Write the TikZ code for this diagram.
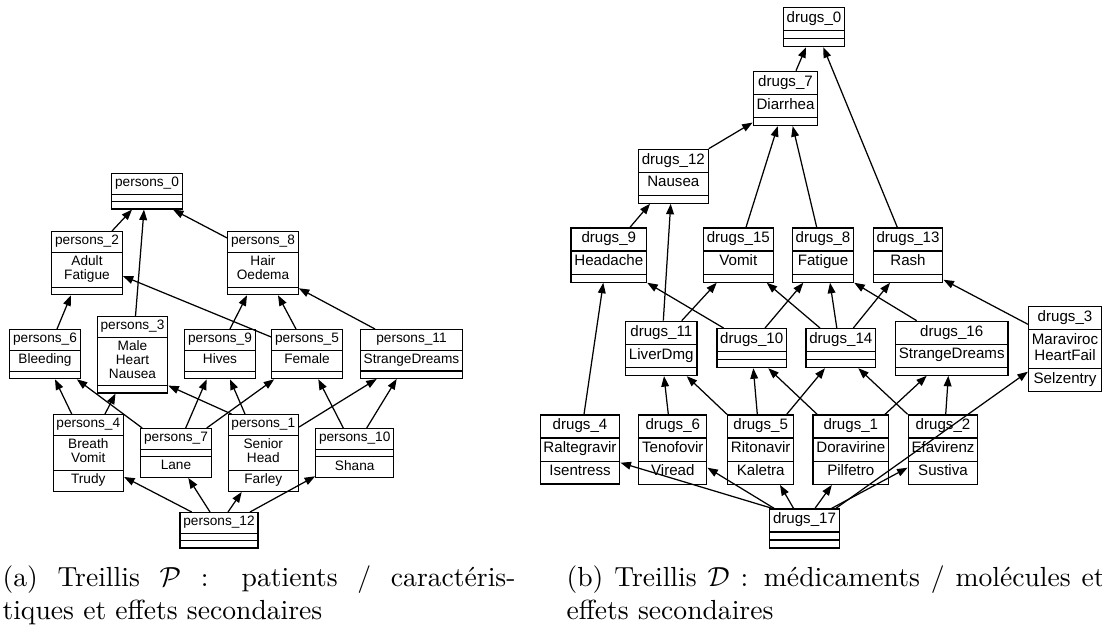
\documentclass[tikz,border=0pt]{standalone}
\usepackage{fontspec}
\usepackage{amsmath}
\usepackage{amssymb}
\usetikzlibrary{shapes.multipart,arrows.meta,calc}
\newfontfamily\latfont{Liberation Sans}
\newcommand\pfont{\latfont\fontsize{4.94}{4.94}\selectfont}
\newcommand\dfont{\latfont\fontsize{5.47}{5.47}\selectfont}
\newcommand\cpart[1]{\begin{tabular}{@{}c@{}}#1\end{tabular}}
\newcommand\nopart{\hbox to 0.1pt{\vrule height 0.1pt depth 0pt width 0pt\hss}}
\tikzset{
  concept/.style={rectangle split, rectangle split parts=3, draw, line width=0.45pt,
    inner xsep=1.2pt, inner ysep=1.05pt, anchor=north, font=\pfont},
  dconcept/.style={concept, inner ysep=1.16pt, font=\dfont},
  arr/.style={-{Triangle[length=3.8pt,width=2.8pt]}, line width=0.45pt},
  caption/.style={anchor=north west, inner sep=0pt, align=justify, font=\fontsize{10}{12}\selectfont}
}
\begin{document}
\begin{tikzpicture}[x=0.362pt,y=-0.362pt]
\useasboundingbox (0,0) rectangle (1102,634);
\clip (0,0) rectangle (1102,634);
\node[concept] (p0) at (147,173) {\cpart{persons\_0}\nodepart{two}\nopart\nodepart{three}\nopart};
\node[concept] (p2) at (87,231) {\cpart{persons\_2}\nodepart{two}\cpart{Adult\\Fatigue}\nodepart{three}\nopart};
\node[concept] (p8) at (263,231) {\cpart{persons\_8}\nodepart{two}\cpart{Hair\\Oedema}\nodepart{three}\nopart};
\node[concept] (p6) at (45,329) {\cpart{persons\_6}\nodepart{two}\cpart{Bleeding}\nodepart{three}\nopart};
\node[concept] (p3) at (132.5,316) {\cpart{persons\_3}\nodepart{two}\cpart{Male\\Heart\\Nausea}\nodepart{three}\nopart};
\node[concept] (p9) at (220,329) {\cpart{persons\_9}\nodepart{two}\cpart{Hives}\nodepart{three}\nopart};
\node[concept] (p5) at (307,329) {\cpart{persons\_5}\nodepart{two}\cpart{Female}\nodepart{three}\nopart};
\node[concept] (p11) at (411.5,329) {\cpart{persons\_11}\nodepart{two}\cpart{StrangeDreams}\nodepart{three}\nopart};
\node[concept] (p4) at (88.3,414) {\cpart{persons\_4}\nodepart{two}\cpart{Breath\\Vomit}\nodepart{three}\cpart{Trudy}};
\node[concept] (p7) at (176,428) {\cpart{persons\_7}\nodepart{two}\nopart\nodepart{three}\cpart{Lane}};
\node[concept] (p1) at (263.3,414) {\cpart{persons\_1}\nodepart{two}\cpart{Senior\\Head}\nodepart{three}\cpart{Farley}};
\node[concept] (p10) at (354.7,428) {\cpart{persons\_10}\nodepart{two}\nopart\nodepart{three}\cpart{Shana}};
\node[concept] (p12) at (219,512) {\cpart{persons\_12}\nodepart{two}\nopart\nodepart{three}\nopart};

\draw[arr] ($(p2.north)+(25,0)$) -- ($(p0.south)+(-15,0)$);
\draw[arr] ($(p3.north)+(3,0)$) -- ($(p0.south)+(-3,0)$);
\draw[arr] ($(p8.north west)+(0,7)$) -- ($(p0.south)+(26,0)$);
\draw[arr] ($(p6.north)+(12,0)$) -- ($(p2.south)+(-16,0)$);
\draw[arr] ($(p5.north west)+(0,8)$) -- ($(p2.north east)+(0,45)$);
\draw[arr] ($(p9.north)+(10,0)$) -- ($(p8.south)+(-16,0)$);
\draw[arr] ($(p5.north)+(-11,0)$) -- ($(p8.south)+(15,0)$);
\draw[arr] ($(p11.north)+(-36.5,0)$) -- ($(p8.south east)+(0,-7)$);
\draw[arr] ($(p4.north)+(-16.6,0)$) -- ($(p6.south)+(10,0)$);
\draw[arr] ($(p4.north)+(16.7,0)$) -- ($(p3.south)+(-17,0)$);
\draw[arr] ($(p7.north west)+(2,0)$) -- ($(p6.south east)+(-4,0)$);
\draw[arr] ($(p7.north)+(9.7,0)$) -- ($(p9.south)+(-13.3,0)$);
\draw[arr] ($(p7.north)+(30.7,0)$) -- ($(p5.south west)+(3,0)$);
\draw[arr] ($(p1.north west)+(4,0)$) -- ($(p3.south east)+(0,-8)$);
\draw[arr] ($(p1.north)+(-18.3,0)$) -- ($(p9.south)+(10,0)$);
\draw[arr] ($(p1.north east)+(0,13)$) -- ($(p11.south)+(-34.8,0)$);
\draw[arr] ($(p10.north)+(-11.4,0)$) -- ($(p5.south)+(11.3,0)$);
\draw[arr] ($(p10.north)+(12,0)$) -- ($(p11.south)+(-14.8,0)$);
\draw[arr] ($(p12.north)+(-27.3,0)$) -- ($(p4.south east)+(0,-15)$);
\draw[arr] ($(p12.north)+(-9,0)$) -- ($(p7.south)+(12.3,0)$);
\draw[arr] ($(p12.north)+(9,0)$) -- ($(p1.south)+(-21.6,0)$);
\draw[arr] ($(p12.north)+(31,0)$) -- ($(p10.south west)+(0,-2)$);

\node[dconcept] (d0) at (814,7) {\cpart{drugs\_0}\nodepart{two}\nopart\nodepart{three}\nopart};
\node[dconcept] (d7) at (785.5,70.7) {\cpart{drugs\_7}\nodepart{two}\cpart{Diarrhea}\nodepart{three}\nopart};
\node[dconcept] (d12) at (673.3,148.7) {\cpart{drugs\_12}\nodepart{two}\cpart{Nausea}\nodepart{three}\nopart};
\node[dconcept] (d9) at (608.8,227.3) {\cpart{drugs\_9}\nodepart{two}\cpart{Headache}\nodepart{three}\nopart};
\node[dconcept] (d15) at (738.3,227.3) {\cpart{drugs\_15}\nodepart{two}\cpart{Vomit}\nodepart{three}\nopart};
\node[dconcept] (d8) at (823,227.3) {\cpart{drugs\_8}\nodepart{two}\cpart{Fatigue}\nodepart{three}\nopart};
\node[dconcept] (d13) at (908,227.3) {\cpart{drugs\_13}\nodepart{two}\cpart{Rash}\nodepart{three}\nopart};
\node[dconcept] (d11) at (661.3,320.7) {\cpart{drugs\_11}\nodepart{two}\cpart{LiverDmg}\nodepart{three}\nopart};
\node[dconcept] (d10) at (751.7,328) {\cpart{drugs\_10}\nodepart{two}\nopart\nodepart{three}\nopart};
\node[dconcept] (d14) at (840.8,328) {\cpart{drugs\_14}\nodepart{two}\nopart\nodepart{three}\nopart};
\node[dconcept] (d16) at (951.7,320.7) {\cpart{drugs\_16}\nodepart{two}\cpart{StrangeDreams}\nodepart{three}\nopart};
\node[dconcept] (d3) at (1065,306) {\cpart{drugs\_3}\nodepart{two}\cpart{Maraviroc\\HeartFail}\nodepart{three}\cpart{Selzentry}};
\node[dconcept] (d4) at (580,414.3) {\cpart{drugs\_4}\nodepart{two}\cpart{Raltegravir}\nodepart{three}\cpart{Isentress}};
\node[dconcept] (d6) at (672.8,414.3) {\cpart{drugs\_6}\nodepart{two}\cpart{Tenofovir}\nodepart{three}\cpart{Viread}};
\node[dconcept] (d5) at (760.7,414.3) {\cpart{drugs\_5}\nodepart{two}\cpart{Ritonavir}\nodepart{three}\cpart{Kaletra}};
\node[dconcept] (d1) at (850.8,414.3) {\cpart{drugs\_1}\nodepart{two}\cpart{Doravirine}\nodepart{three}\cpart{Pilfetro}};
\node[dconcept] (d2) at (943,414.3) {\cpart{drugs\_2}\nodepart{two}\cpart{Efavirenz}\nodepart{three}\cpart{Sustiva}};
\node[dconcept] (d17) at (804.5,508.3) {\cpart{drugs\_17}\nodepart{two}\nopart\nodepart{three}\nopart};

\draw[arr] ($(d7.north)+(10.5,0)$) -- ($(d0.south)+(-8,0)$);
\draw[arr] ($(d13.north)+(-10.7,0)$) -- ($(d0.south)+(9.3,0)$);
\draw[arr] (d12.north east) -- ($(d7.south west)+(0,-3.6)$);
\draw[arr] ($(d15.north)+(7.7,0)$) -- ($(d7.south)+(-7.8,0)$);
\draw[arr] ($(d8.north)+(-6.3,0)$) -- ($(d7.south)+(7.2,0)$);
\draw[arr] ($(d9.north)+(21.2,0)$) -- ($(d12.south)+(-23.3,0)$);
\draw[arr] ($(d11.north)+(2,0)$) -- ($(d12.south)+(-2.6,0)$);
\draw[arr] ($(d4.north)+(4,0)$) -- ($(d9.south)+(-5.5,0)$);
\draw[arr] ($(d10.north west)+(7.3,0)$) -- (d9.south east);
\draw[arr] ($(d11.north)+(20.4,0)$) -- ($(d15.south)+(-21.6,0)$);
\draw[arr] ($(d14.north)+(-20.8,0)$) -- ($(d15.south)+(28.4,0)$);
\draw[arr] ($(d10.north)+(13.3,0)$) -- ($(d8.south)+(-19.7,0)$);
\draw[arr] ($(d14.north)+(-4,0)$) -- ($(d8.south)+(7,0)$);
\draw[arr] ($(d14.north)+(12.5,0)$) -- ($(d13.south)+(-18,0)$);
\draw[arr] ($(d16.north)+(-35,0)$) -- (d8.south east);
\draw[arr] ($(d3.north west)+(0,18.3)$) -- ($(d13.south east)+(0,-3)$);
\draw[arr] ($(d6.north)+(-4.5,0)$) -- ($(d11.south)+(2.7,0)$);
\draw[arr] (d5.north west) -- ($(d11.south)+(25.4,0)$);
\draw[arr] ($(d5.north)+(-3.4,0)$) -- ($(d10.south)+(1.6,0)$);
\draw[arr] ($(d5.north)+(26,0)$) -- ($(d14.south)+(-15.8,0)$);
\draw[arr] ($(d1.north west)+(4.7,0)$) -- ($(d10.south)+(16.6,0)$);
\draw[arr] (d2.north west) -- ($(d14.south)+(17.5,0)$);
\draw[arr] ($(d1.north)+(34.2,0)$) -- ($(d16.south)+(-25,0)$);
\draw[arr] ($(d2.north)+(2.7,0)$) -- ($(d16.south)+(-3.4,0)$);
\draw[arr] ($(d17.north west)+(3,0)$) -- ($(d4.north east)+(0,48.4)$);
\draw[arr] ($(d17.north west)+(5,0)$) -- ($(d6.north east)+(0,53.4)$);
\draw[arr] ($(d17.north)+(-11,0)$) -- ($(d5.south)+(19.3,0)$);
\draw[arr] ($(d17.north)+(10.5,0)$) -- ($(d1.south)+(-19,0)$);
\draw[arr] ($(d17.north)+(27.2,0)$) -- ($(d2.north west)+(0,53.4)$);
\draw[arr] ($(d17.north east)+(-4,0)$) -- ($(d3.north west)+(0,65.7)$);

\node[caption, text width=185.7pt] (capa) at (2,565) {\noindent(a) Treillis $\mathcal{P}$ : patients / caractéris-\linebreak tiques et effets secondaires};
\node[caption, text width=194.8pt] (capb) at (566,565) {\noindent(b) Treillis $\mathcal{D}$ : médicaments / molécules et\linebreak effets secondaires};
\end{tikzpicture}
\end{document}
